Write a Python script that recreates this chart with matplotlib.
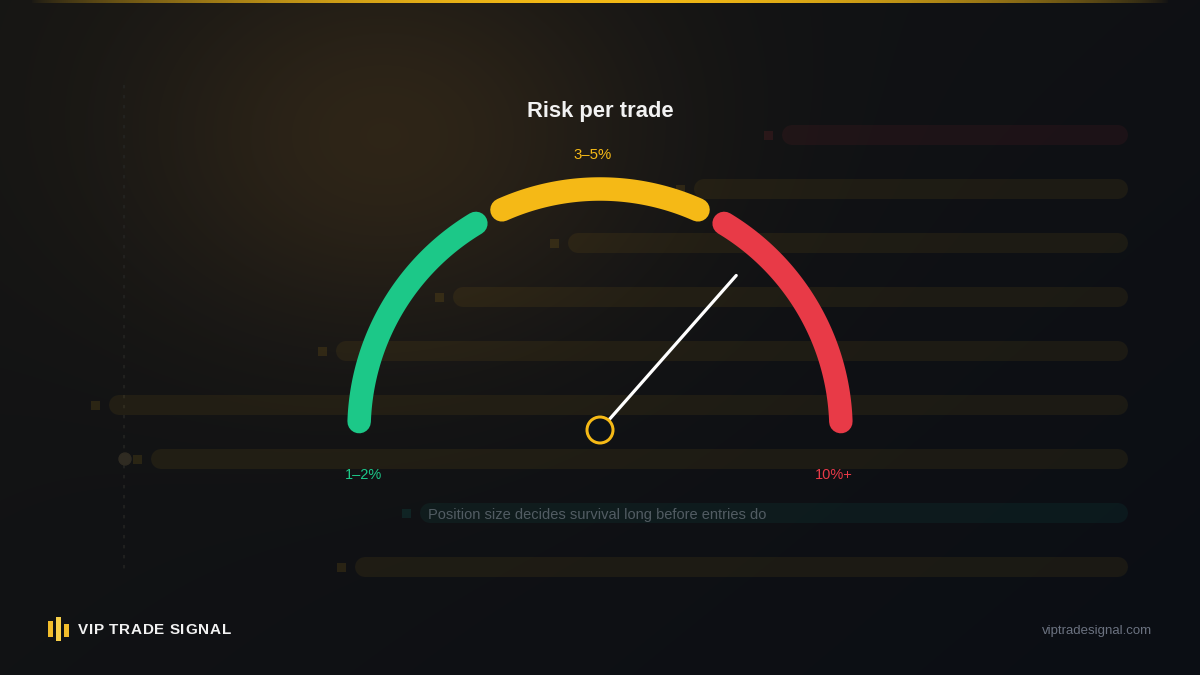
import numpy as np
import matplotlib
matplotlib.use("Agg")
import matplotlib.pyplot as plt
from matplotlib.patches import Circle, Rectangle

plt.rcParams['font.family'] = ['Liberation Sans', 'DejaVu Sans']

# gauge data
zone_labels = ["1–2%", "3–5%", "10%+"]
zone_colors = ["#1cc888", "#f5b916", "#e83a47"]
zone_spans = [(178, 121), (114, 66), (59, 2)]   # degrees
needle_value = 0.73                              # fraction of the dial
title = "Risk per trade"

# faint background bars (length from right edge) and their tint
bar_lengths = [346, 434, 560, 675, 792, 1019, 977, 708, 773]
bar_tints = ["#e83a47", "#f5b916", "#f5b916", "#f5b916", "#f5b916",
             "#f5b916", "#f5b916", "#14b8a6", "#f5b916"]
bar_note = "Position size decides survival long before entries do"

W, H = 1200, 675
fig = plt.figure(figsize=(12, 6.75), dpi=100)
ax = fig.add_axes([0, 0, 1, 1])
ax.set_xlim(0, W)
ax.set_ylim(H, 0)
ax.axis('off')

# background: dark base with a warm glow top-left
yy, xx = np.mgrid[0:H, 0:W]
base = np.zeros((H, W, 3))
t = np.clip(xx / W * 0.6 + yy / H * 0.4, 0, 1)[..., None]
base += np.array([21, 21, 20]) * (1 - t) + np.array([11, 14, 20]) * t
glow = np.exp(-(((xx - 390) / 260.0) ** 2 + ((yy - 140) / 200.0) ** 2))[..., None]
base += np.array([28, 18, 4]) * glow
ax.imshow(np.clip(base, 0, 255).astype(np.uint8), extent=(0, W, H, 0), zorder=0, aspect='auto')

# gold line at the top
strip = np.zeros((1, 600, 4))
xs = np.linspace(0, 1, 600)
strip[..., 0], strip[..., 1], strip[..., 2] = 0.96, 0.73, 0.09
strip[..., 3] = np.clip(np.sin(np.pi * xs), 0, 1) ** 0.7
ax.imshow(strip, extent=(30, 1170, 3, 0), zorder=1, aspect='auto')

px = 0.72  # points per pixel

# dotted vertical guide
ax.plot([124, 124], [85, 575], color="#242422", lw=1.2, ls=(0, (2, 4)), zorder=1)
ax.add_patch(Circle((125, 459), 6, color="#2f2b22", zorder=1))

# background bars
bar_end = 1128
for i, (ln, c) in enumerate(zip(bar_lengths, bar_tints)):
    y = 135 + i * 54
    x0 = bar_end - ln
    ax.plot([x0 + 10, bar_end - 10], [y, y], color=c, alpha=0.065, lw=20 * px,
            solid_capstyle='round', zorder=2)
    ax.add_patch(Rectangle((x0 - 18, y - 4.5), 9, 9, color=c, alpha=0.11, lw=0, zorder=2))
ax.text(428, 135 + 7 * 54 + 2, bar_note, color="#525c63", fontsize=10.5,
        va='center', ha='left', zorder=3)

# gauge
cx, cy, R = 600, 430, 241
for (a0, a1), c in zip(zone_spans, zone_colors):
    th = np.radians(np.linspace(a0, a1, 120))
    ax.plot(cx + R * np.cos(th), cy - R * np.sin(th), color=c, lw=23.5 * px,
            solid_capstyle='round', zorder=4)

ang = np.radians(180 * (1 - needle_value))
L = 206
ax.plot([cx, cx + L * np.cos(ang)], [cy, cy - L * np.sin(ang)], color="white",
        lw=3.2 * px, solid_capstyle='round', zorder=5)
ax.add_patch(Circle((cx, cy), 13, facecolor="#0d1117", edgecolor="#f5b916",
                    lw=3 * px, zorder=6))

ax.text(cx, 112, title, color="#f2f2f2", fontsize=15.8, fontweight='bold',
        ha='center', va='center', zorder=6)
ax.text(364, 475, zone_labels[0], color=zone_colors[0], fontsize=10.5, ha='center', va='center', zorder=6)
ax.text(593, 155, zone_labels[1], color=zone_colors[1], fontsize=10.8, ha='center', va='center', zorder=6)
ax.text(834, 475, zone_labels[2], color=zone_colors[2], fontsize=10.5, ha='center', va='center', zorder=6)

# footer logo
for (x0, y0, h, c) in [(48, 621, 16, "#f2bd2c"), (56, 617, 24, "#f7cf4a"), (64, 624, 13, "#f2bd2c")]:
    ax.add_patch(Rectangle((x0, y0), 5, h, color=c, lw=0, zorder=6))

# brand name with letter spacing, one glyph at a time
fig.canvas.draw()
renderer = fig.canvas.get_renderer()
x = 78
for ch in "VIP TRADE SIGNAL":
    tx = ax.text(x, 630, ch, color="#f2f2f2", fontsize=11, fontweight='bold',
                 ha='left', va='center', zorder=6)
    w = tx.get_window_extent(renderer).width if ch != " " else 3.2
    x += w + 0.8
ax.text(1152, 631, "viptradesignal.com", color="#6b7280", fontsize=9.5,
        ha='right', va='center', zorder=6)

fig.savefig("out.png", dpi=100, facecolor="#0d1117")
